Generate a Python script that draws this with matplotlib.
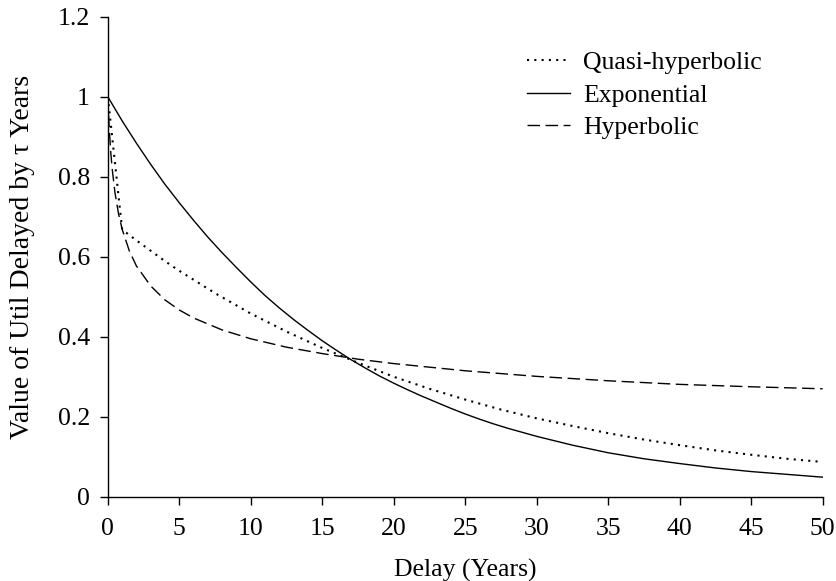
import matplotlib
matplotlib.use("Agg")
import matplotlib.pyplot as plt

# Delay in years and discount values
t_hyp = [0, 0.05, 0.1, 0.2, 0.3, 0.5, 0.75, 1, 1.5, 2, 3, 4, 5, 6, 8, 10,
         12.5, 15, 17.5, 20, 25, 30, 35, 40, 45, 50]
hyperbolic = [1.0, 0.955, 0.919, 0.863, 0.821, 0.760, 0.707, 0.669, 0.615,
              0.577, 0.527, 0.492, 0.467, 0.447, 0.417, 0.395, 0.374, 0.358,
              0.344, 0.333, 0.315, 0.301, 0.290, 0.281, 0.275, 0.270]

t_quasi = [0, 1, 2, 3, 4, 5, 7.5, 10, 12.5, 15, 17.5, 20, 22.5, 25, 27.5, 30,
           32.5, 35, 37.5, 40, 42.5, 45, 47.5, 50]
quasi = [1.0, 0.668, 0.641, 0.615, 0.589, 0.565, 0.509, 0.458, 0.413, 0.372,
         0.335, 0.300, 0.270, 0.243, 0.218, 0.196, 0.177, 0.159, 0.143,
         0.129, 0.116, 0.105, 0.095, 0.087]

t_exp = [0, 1, 2, 3, 4, 5, 6, 7, 8, 9, 10, 11, 12, 13, 14, 15, 16, 17, 18,
         19, 20, 21, 22, 23, 24, 25, 26, 27, 28, 29, 30, 32.5, 35, 37.5, 40,
         42.5, 45, 47.5, 50]
exponential = [1.0, 0.940, 0.884, 0.831, 0.781, 0.735, 0.691, 0.649, 0.610,
               0.573, 0.537, 0.503, 0.472, 0.443, 0.416, 0.390, 0.366, 0.343,
               0.322, 0.302, 0.284, 0.267, 0.251, 0.236, 0.221, 0.207, 0.194,
               0.182, 0.171, 0.161, 0.151, 0.129, 0.110, 0.095, 0.083,
               0.072, 0.063, 0.056, 0.049]

x_ticks = [0, 5, 10, 15, 20, 25, 30, 35, 40, 45, 50]
y_ticks = [0, 0.2, 0.4, 0.6, 0.8, 1.0, 1.2]
y_tick_labels = ["0", "0.2", "0.4", "0.6", "0.8", "1", "1.2"]

plt.rcParams['font.family'] = ['Liberation Serif', 'DejaVu Serif']

fig = plt.figure(figsize=(8.36, 5.81), dpi=100)
ax = fig.add_axes([0.129, 0.145, 0.855, 0.826])

ax.plot(t_quasi, quasi, color='black', lw=1.5, linestyle=(0, (1, 2.5)),
        label='Quasi-hyperbolic')
ax.plot(t_exp, exponential, color='black', lw=1.0, linestyle='-',
        label='Exponential')
ax.plot(t_hyp, hyperbolic, color='black', lw=1.0, linestyle=(0, (9, 4)),
        label='Hyperbolic')

ax.set_xlim(0, 50)
ax.set_ylim(0, 1.2)
ax.set_xticks(x_ticks)
ax.set_yticks(y_ticks)
ax.set_yticklabels(y_tick_labels)
for s in ['top', 'right']:
    ax.spines[s].set_visible(False)
for s in ['left', 'bottom']:
    ax.spines[s].set_linewidth(1.0)
ax.tick_params(direction='out', length=6, width=1.0, labelsize=18.5)
ax.tick_params(axis='x', pad=9)
ax.tick_params(axis='y', pad=7)

ax.set_xlabel('Delay (Years)', fontsize=18.5, labelpad=14)
ax.set_ylabel('Value of Util Delayed by τ Years', fontsize=20, labelpad=16)

leg = ax.legend(loc='upper left', bbox_to_anchor=(0.586, 0.928), frameon=False,
                fontsize=18.5, handlelength=1.7, handletextpad=0.5,
                labelspacing=0.37, borderpad=0, borderaxespad=0)

fig.savefig('out.png', dpi=100)
